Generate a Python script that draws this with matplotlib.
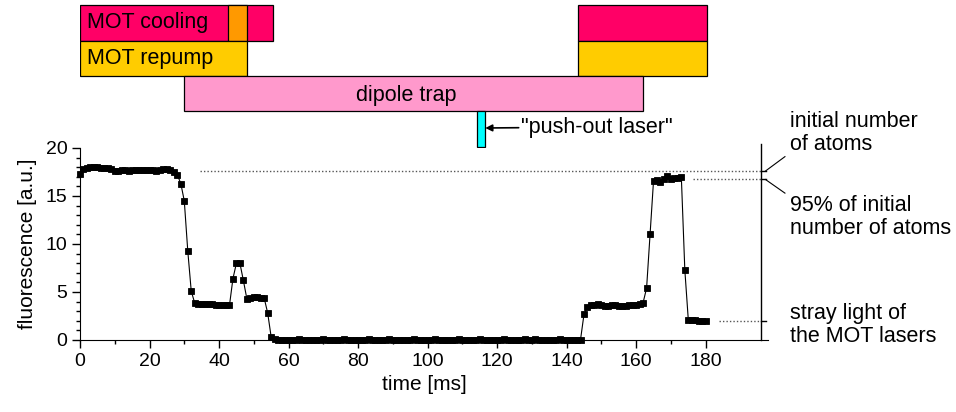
"""
Fluorescence of the MOT during a dipole-trap transfer sequence,
with the laser timing diagram drawn above the trace.
"""

import numpy as np
import matplotlib.pyplot as plt

plt.rcParams["font.family"] = ["Liberation Sans", "DejaVu Sans"]

# fluorescence sampled every 1 ms, starting at t = 0
fluorescence = [
    17.3, 17.8, 17.9, 18.0, 18.05, 18.0, 17.95, 17.9, 17.9, 17.8,
    17.65, 17.65, 17.7, 17.7, 17.65, 17.7, 17.75, 17.7, 17.75, 17.7,
    17.75, 17.7, 17.65, 17.75, 17.85, 17.8, 17.7, 17.55, 17.2, 16.3,
    14.5, 9.3, 5.1, 3.85, 3.75, 3.75, 3.7, 3.7, 3.7, 3.65,
    3.65, 3.65, 3.65, 3.6, 6.4, 8.0, 8.0, 6.2, 4.3, 4.4,
    4.5, 4.45, 4.4, 4.35, 2.8, 0.3, 0.1, 0.05, 0.05, 0.0,
    0.05, 0.0, 0.05, 0.1, 0.05, 0.0, 0.05, 0.05, 0.0, 0.05,
    0.1, 0.05, 0.05, 0.0, 0.05, 0.05, 0.1, 0.05, 0.0, 0.05,
    0.05, 0.0, 0.05, 0.1, 0.05, 0.05, 0.0, 0.05, 0.05, 0.1,
    0.05, 0.0, 0.05, 0.05, 0.0, 0.05, 0.1, 0.05, 0.05, 0.0,
    0.05, 0.05, 0.1, 0.05, 0.0, 0.05, 0.05, 0.0, 0.05, 0.1,
    0.05, 0.05, 0.0, 0.05, 0.05, 0.1, 0.05, 0.0, 0.05, 0.05,
    0.0, 0.05, 0.1, 0.05, 0.05, 0.0, 0.05, 0.05, 0.1, 0.05,
    0.05, 0.1, 0.05, 0.0, 0.05, 0.05, 0.0, 0.05, 0.1, 0.05,
    0.0, 0.05, 0.05, 0.0, 0.05, 2.7, 3.4, 3.6, 3.65, 3.7,
    3.6, 3.55, 3.5, 3.6, 3.6, 3.5, 3.55, 3.55, 3.6, 3.6,
    3.65, 3.7, 3.9, 5.4, 11.0, 16.6, 16.7, 16.5, 16.8, 17.1,
    16.8, 16.85, 16.9, 16.95, 7.3, 2.1, 2.05, 2.05, 2.0, 2.0,
    1.95,
]

# reference levels marked on the right
initial_level = 17.6
fraction_level = 0.95 * initial_level
stray_level = 2.0
level_labels = [
    "initial number\nof atoms",
    "95% of initial\nnumber of atoms",
    "stray light of\nthe MOT lasers",
]

# laser timing: (start ms, end ms) for each pulse
cooling_on = [(0.0, 55.6), (143.4, 180.5)]
cooling_detuned = (42.7, 48.0)
repump_on = [(0.0, 48.0), (143.4, 180.5)]
dipole_on = (30.0, 162.1)
pushout_on = (114.1, 116.6)

COOLING = "#FF0066"
DETUNED = "#FF9900"
REPUMP = "#FFCC00"
DIPOLE = "#FF99CC"
PUSHOUT = "#00FFFF"

W, H = 956, 412
X_MAX = 198.0
PX_PER_MS = 3.476


def draw_timing(ax):
    # y runs in pixel rows from the top of the figure
    ax.set_xlim(0, X_MAX)
    ax.set_ylim(148, 0)
    ax.axis("off")
    kw = dict(align="edge", edgecolor="black", linewidth=0.9)
    for a, b in cooling_on:
        ax.bar(a, 35.5, width=b - a, bottom=5, color=COOLING, **kw)
    a, b = cooling_detuned
    ax.bar(a, 35.5, width=b - a, bottom=5, color=DETUNED, **kw)
    for a, b in repump_on:
        ax.bar(a, 35.5, width=b - a, bottom=40.5, color=REPUMP, **kw)
    a, b = dipole_on
    ax.bar(a, 35, width=b - a, bottom=76, color=DIPOLE, **kw)
    a, b = pushout_on
    ax.bar(a, 35.5, width=b - a, bottom=111, color=PUSHOUT, **kw)

    ax.text(2.0, 22.5, "MOT cooling", fontsize=15.5, va="center")
    ax.text(2.0, 58.5, "MOT repump", fontsize=15.5, va="center")
    ax.text(94.0, 95, "dipole trap", fontsize=15.5, va="center", ha="center")
    ax.annotate('"push-out laser"', xy=(b, 128), xytext=(127.0, 127),
                fontsize=15.5, va="center",
                arrowprops=dict(arrowstyle="-|>", color="black", lw=1.2,
                                mutation_scale=10, shrinkA=0, shrinkB=0))


def draw_trace(ax):
    t = np.arange(len(fluorescence))
    ax.plot(t, fluorescence, color="black", lw=0.8, marker="s",
            markersize=5, markeredgewidth=0.6, markeredgecolor="black",
            clip_on=False, zorder=3)

    ax.set_xlim(0, X_MAX)
    ax.set_ylim(0, 20)
    ax.set_xticks(np.arange(0, 181, 20))
    ax.set_xticks(np.arange(0, 181, 10), minor=True)
    ax.set_yticks(np.arange(0, 21, 5))
    ax.set_yticks(np.arange(0, 21, 1), minor=True)
    ax.tick_params(which="major", direction="out", length=6, width=1,
                   labelsize=14, pad=3)
    ax.tick_params(which="minor", direction="out", length=3, width=1)
    for side in ("top", "right"):
        ax.spines[side].set_visible(False)
    ax.spines["left"].set_bounds(0, 20)
    ax.set_xlabel("time [ms]", fontsize=15, labelpad=4)
    ax.set_ylabel("fluorescence [a.u.]", fontsize=15, labelpad=6)

    # level scale on the right
    x_scale = 196.0
    ax.plot([x_scale, x_scale], [0, 20.4], color="black", lw=1, clip_on=False)
    dotted = dict(color="#555555", lw=1, linestyle=(0, (1, 1.5)), clip_on=False)
    ax.plot([34.6, x_scale], [initial_level] * 2, **dotted)
    ax.plot([176.4, x_scale], [fraction_level] * 2, **dotted)
    ax.plot([183.8, x_scale], [stray_level] * 2, **dotted)
    for lvl in (initial_level, fraction_level, stray_level):
        ax.plot([x_scale, x_scale + 1.4], [lvl, lvl], color="black", lw=1,
                clip_on=False)
    ax.plot([x_scale + 1.2, 202.8], [initial_level, 19.1], color="black",
            lw=0.8, clip_on=False)
    ax.plot([x_scale + 1.2, 202.8], [fraction_level, 15.3], color="black",
            lw=0.8, clip_on=False)


def main():
    fig = plt.figure(figsize=(W / 100, H / 100), dpi=100)
    left = 80 / W
    width = X_MAX * PX_PER_MS / W
    ax = fig.add_axes([left, 1 - 340 / H, width, 192 / H])
    ax_top = fig.add_axes([left, 1 - 148 / H, width, 148 / H])

    draw_trace(ax)
    draw_timing(ax_top)

    for label, y_px in zip(level_labels, (133, 217, 325)):
        fig.text(790 / W, 1 - y_px / H, label, fontsize=15.5, va="center",
                 linespacing=1.15)

    fig.savefig("out.png", dpi=100)


if __name__ == "__main__":
    main()
